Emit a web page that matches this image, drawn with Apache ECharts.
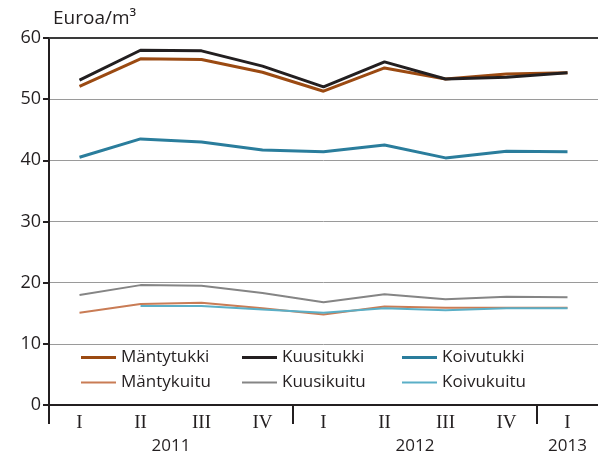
<!DOCTYPE html>
<html>
<head>
<meta charset="utf-8">
<script src="https://cdn.jsdelivr.net/npm/echarts@6/dist/echarts.min.js"></script>
<style>
  html, body { margin: 0; padding: 0; background: #fff; }
  #myChart { width: 598px; height: 459px; }
</style>
</head>
<body>
<div id="myChart"></div>
<script>
// quarters and years
let quarters = ['I', 'II', 'III', 'IV', 'I', 'II', 'III', 'IV', 'I'];
let years = ['2011', '2012', '2013'];

// prices, euros per m³
let mantytukki = [52.1, 56.6, 56.5, 54.4, 51.3, 55.1, 53.3, 54.1, 54.3];
let kuusitukki = [53.1, 58.0, 57.9, 55.4, 52.0, 56.1, 53.3, 53.6, 54.3];
let koivutukki = [40.5, 43.5, 43.0, 41.7, 41.4, 42.5, 40.4, 41.5, 41.4];
let mantykuitu = [15.1, 16.5, 16.7, 15.8, 14.8, 16.1, 15.9, 15.9, 15.9];
let kuusikuitu = [18.0, 19.6, 19.5, 18.3, 16.8, 18.1, 17.3, 17.7, 17.6];
let koivukuitu = [null, 16.2, 16.2, 15.6, 15.1, 15.8, 15.5, 15.8, 15.8];

let sans = 'Open Sans';
let serif = 'Liberation Serif';
let ink = '#231f20';

// year axis: half-quarter points, labels at middle of each year
let yearSlots = [];
for (let i = 0; i <= 18; i++) yearSlots.push('');
yearSlots[4] = years[0];
yearSlots[12] = years[1];
yearSlots[17] = years[2];

let myChart = echarts.init(document.getElementById('myChart'));

let line = (name, data, color, width) => ({
    name,
    type: 'line',
    data,
    symbol: 'none',
    xAxisIndex: 0,
    lineStyle: {color, width},
    itemStyle: {color},
    z: 3
});

// one legend per entry so the icon thickness can follow the line
let legendItem = (name, left, top, thick) => ({
    left,
    top,
    padding: 0,
    icon: 'rect',
    itemWidth: 35,
    itemHeight: thick,
    itemGap: 0,
    textStyle: {fontFamily: sans, fontSize: 17, color: ink},
    data: [name]
});

let option = {
    animation: false,
    grid: {left: 49, right: 0, top: 38, bottom: 54},
    legend: [
        legendItem('Mäntytukki', 81, 349, 3),
        legendItem('Kuusitukki', 242, 349, 3),
        legendItem('Koivutukki', 402, 349, 3),
        legendItem('Mäntykuitu', 81, 374, 2),
        legendItem('Kuusikuitu', 242, 374, 2),
        legendItem('Koivukuitu', 402, 374, 2)
    ],
    xAxis: [
        {
            type: 'category',
            data: quarters,
            position: 'bottom',
            axisLine: {lineStyle: {color: ink, width: 2}},
            axisTick: {length: 6, lineStyle: {color: ink, width: 2}},
            axisLabel: {fontFamily: serif, fontSize: 19, color: ink, margin: 9}
        },
        {
            type: 'category',
            data: yearSlots,
            boundaryGap: false,
            position: 'bottom',
            axisLine: {show: false},
            axisTick: {
                length: 19,
                interval: i => i === 0 || i === 8 || i === 16,
                lineStyle: {color: ink, width: 2}
            },
            axisLabel: {
                interval: i => i === 4 || i === 12 || i === 17,
                fontFamily: sans, fontSize: 17, color: ink, margin: 33
            }
        },
        {
            type: 'category',
            data: quarters,
            position: 'top',
            axisLine: {lineStyle: {color: '#3a3a3a', width: 2}},
            axisTick: {show: false},
            axisLabel: {show: false}
        }
    ],
    yAxis: {
        type: 'value',
        min: 0,
        max: 60,
        interval: 10,
        name: 'Euroa/m³',
        nameLocation: 'end',
        nameGap: 10,
        nameTextStyle: {fontFamily: sans, fontSize: 19, color: ink, align: 'left', padding: [0, 0, 0, 4]},
        axisLine: {show: true, lineStyle: {color: ink, width: 2}},
        axisTick: {show: true, length: 6, lineStyle: {color: ink, width: 2}},
        axisLabel: {fontFamily: sans, fontSize: 18, color: ink, margin: 8},
        splitLine: {lineStyle: {color: '#9a9a9a', width: 1}}
    },
    series: [
        line('Mäntytukki', mantytukki, '#9b4a12', 3),
        line('Kuusitukki', kuusitukki, ink, 3),
        line('Koivutukki', koivutukki, '#2a7d9c', 3),
        line('Mäntykuitu', mantykuitu, '#c97c55', 2),
        line('Kuusikuitu', kuusikuitu, '#858585', 2),
        line('Koivukuitu', koivukuitu, '#5aafc7', 2)
    ]
};

myChart.setOption(option);
</script>
</body>
</html>
